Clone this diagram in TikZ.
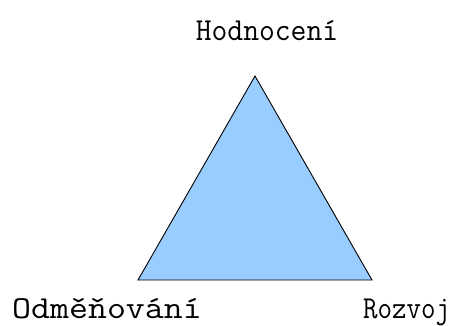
\documentclass[tikz,border=0pt]{standalone}
\usepackage{fontspec}
\definecolor{tri_blue}{RGB}{153,204,255}
\begin{document}
\begin{tikzpicture}[x=1pt, y=1pt,
    corner/.style={font=\ttfamily\fontsize{32}{38}\selectfont, inner sep=0pt, anchor=base}]
            \useasboundingbox (0,0) rectangle (457,325);
            % Corners
            \coordinate (top) at (255,249);
            \coordinate (left) at (138,45);
            \coordinate (right) at (372,45);
            % Triangle
            \filldraw[fill=tri_blue, draw=black, line width=0.9pt, line join=miter] (top) -- (left) -- (right) -- cycle;
            % Labels
            \node[corner, xscale=0.96] (hod) at (267,285) {Hodnocení};
            \node[corner, xscale=1.15] (odm) at (107,7) {Odměňování};
            \node[corner, xscale=0.88, anchor=base west] (roz) at (363,7) {Rozvoj};
\end{tikzpicture}
\end{document}
